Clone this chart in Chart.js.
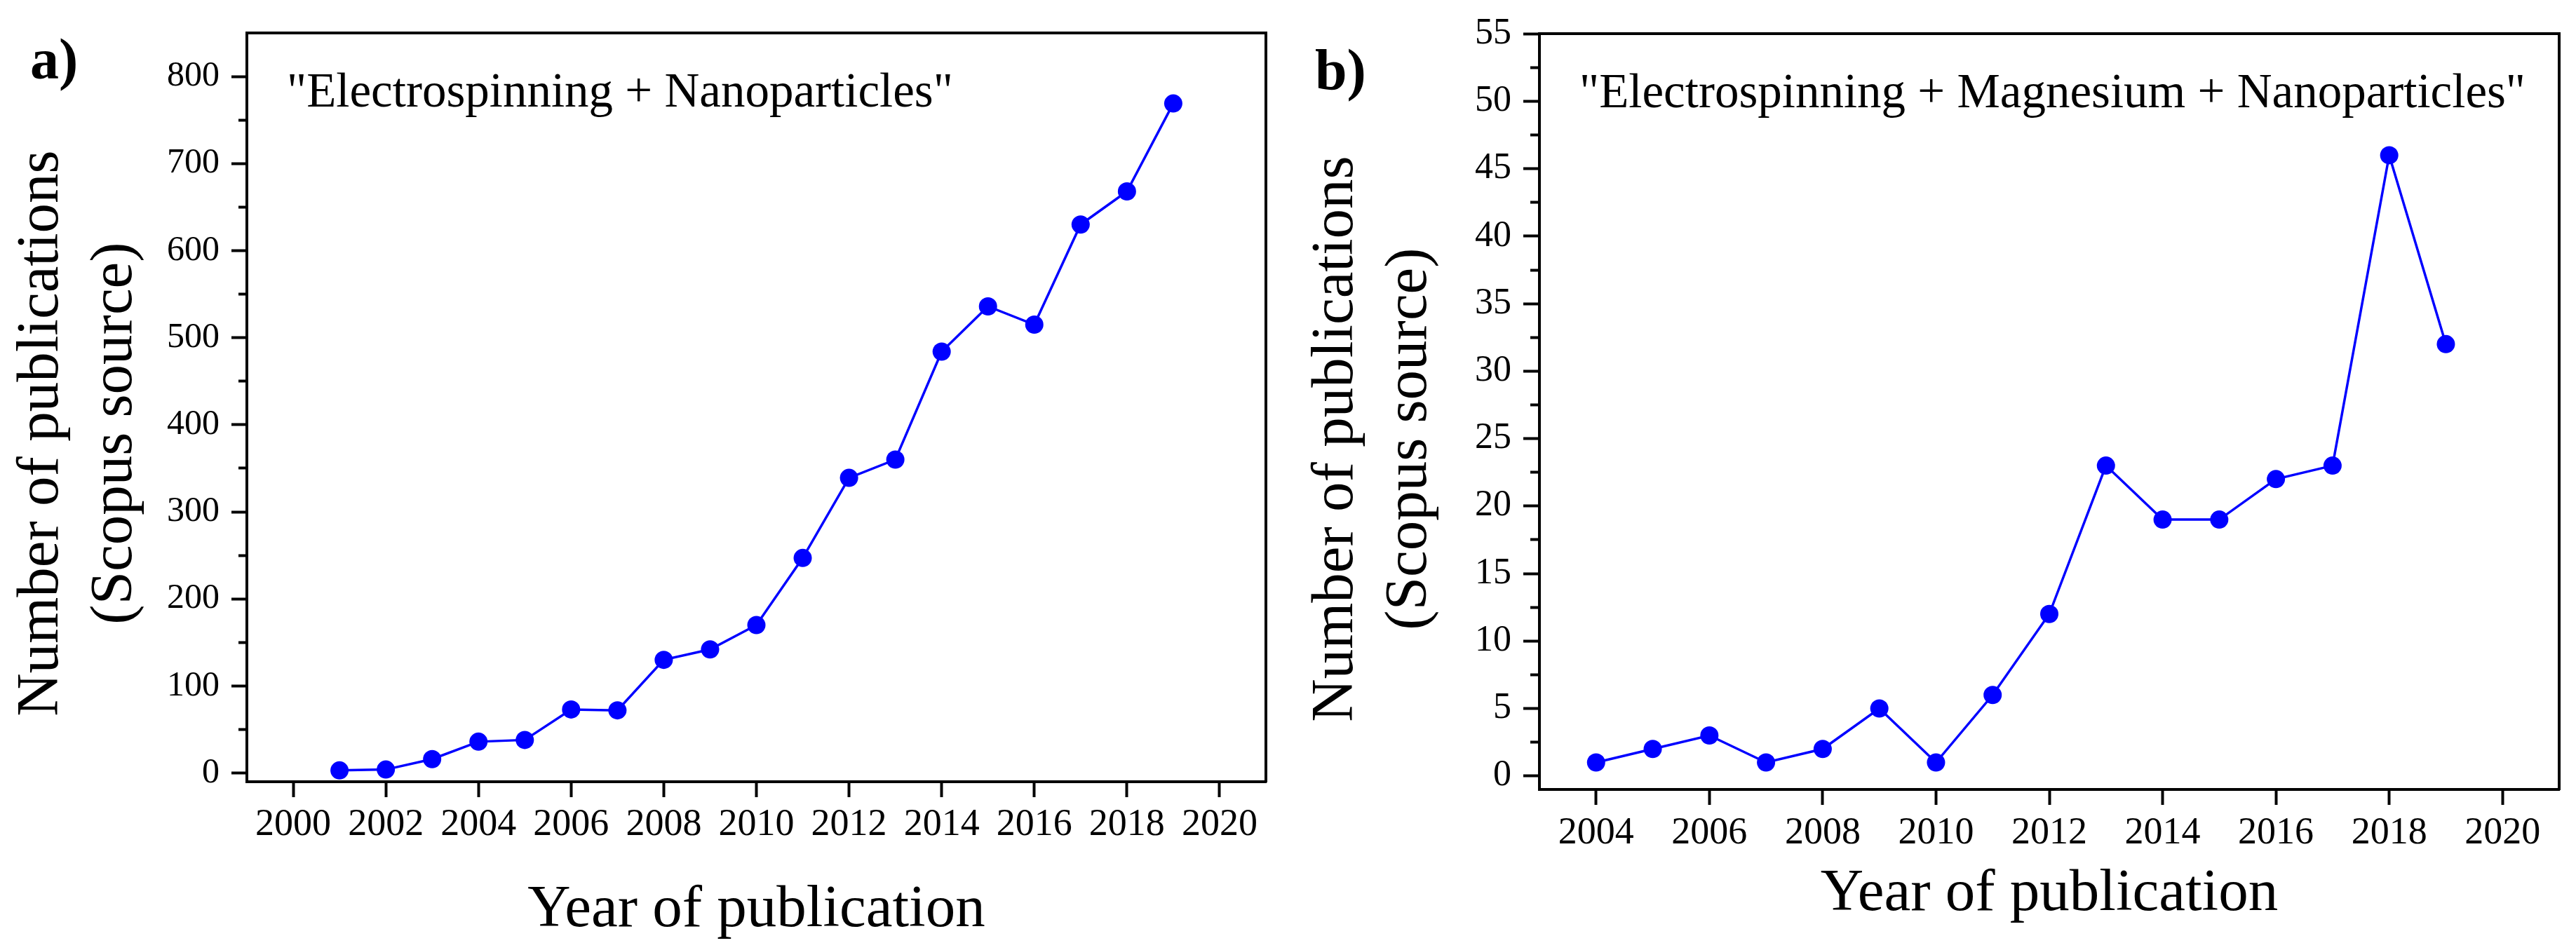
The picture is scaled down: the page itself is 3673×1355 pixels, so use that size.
<!DOCTYPE html>
<html>
<head>
<meta charset="utf-8">
<script src="https://cdn.jsdelivr.net/npm/chart.js@4.4.1/dist/chart.umd.min.js"></script>
<style>
  html, body { margin:0; padding:0; background:#fff; }
  body { width:3673px; height:1355px; position:relative; overflow:hidden; }
  .panel { position:absolute; top:0; height:1355px; }
  #pa { left:0; width:1840px; }
  #pb { left:1840px; width:1833px; }
</style>
</head>
<body>
<div class="panel" id="pa"><canvas id="ca" width="1840" height="1355"></canvas></div>
<div class="panel" id="pb"><canvas id="cb" width="1833" height="1355"></canvas></div>
<script>
// ---------- data ----------
const yearsA = [2001,2002,2003,2004,2005,2006,2007,2008,2009,2010,2011,2012,2013,2014,2015,2016,2017,2018,2019];
const pubsA  = [3,4,16,36,38,73,72,130,142,170,247,339,360,484,536,515,630,668,769];
const yearsB = [2004,2005,2006,2007,2008,2009,2010,2011,2012,2013,2014,2015,2016,2017,2018,2019];
const pubsB  = [1,2,3,1,2,5,1,6,12,23,19,19,22,23,46,32];

const xTicksA = [2000,2002,2004,2006,2008,2010,2012,2014,2016,2018,2020];
const yTicksA = [0,100,200,300,400,500,600,700,800];
const yMinorA = [50,150,250,350,450,550,650,750];
const xTicksB = [2004,2006,2008,2010,2012,2014,2016,2018,2020];
const yTicksB = [0,5,10,15,20,25,30,35,40,45,50,55];
const yMinorB = [2.5,7.5,12.5,17.5,22.5,27.5,32.5,37.5,42.5,47.5,52.5];

const labelA = 'a)';
const labelB = 'b)';
const noteA = '"Electrospinning + Nanoparticles"';
const noteB = '"Electrospinning + Magnesium + Nanoparticles"';
const yTitle = ['Number of publications', '(Scopus source)'];
const xTitle = 'Year of publication';

// ---------- helpers ----------
const FAM = "'Liberation Serif', 'Times New Roman', Times, serif";
const BLUE = '#0000FF';
const INK = '#000000';

function setTicks(list) {
  return function(scale) { scale.ticks = list.map(v => ({ value: v })); };
}

const textPlugin = {
  id: 'panelText',
  afterDraw(chart, args, o) {
    const ctx = chart.ctx;
    const ca = chart.chartArea;
    ctx.save();
    ctx.fillStyle = INK;
    // panel letter
    ctx.font = 'bold ' + o.labelSize + 'px ' + FAM;
    ctx.textAlign = 'left';
    ctx.textBaseline = 'alphabetic';
    ctx.fillText(o.label, o.labelX, o.labelY);
    // annotation
    ctx.font = o.noteSize + 'px ' + FAM;
    ctx.fillText(o.note, ca.left + o.noteDX, ca.top + o.noteDY);
    // y title (rotated, two lines)
    ctx.font = o.ySize + 'px ' + FAM;
    ctx.textAlign = 'center';
    ctx.textBaseline = 'middle';
    o.yLines.forEach((line, i) => {
      ctx.save();
      ctx.translate(o.yX[i], o.yY);
      ctx.rotate(-Math.PI / 2);
      ctx.fillText(line, 0, 0);
      ctx.restore();
    });
    ctx.restore();
  }
};

function makeChart(canvasId, cfg) {
  const ds = cfg.xs.map((x, i) => ({ x: x, y: cfg.ys[i] }));
  const tickFontX = { family: FAM, size: cfg.xTickSize };
  const tickFontY = { family: FAM, size: cfg.yTickSize };
  return new Chart(document.getElementById(canvasId), {
    type: 'line',
    data: {
      datasets: [{
        data: ds,
        borderColor: BLUE,
        borderWidth: 3.5,
        backgroundColor: BLUE,
        pointBackgroundColor: BLUE,
        pointBorderColor: BLUE,
        pointBorderWidth: 0,
        pointRadius: 13,
        tension: 0,
        fill: false,
        clip: false
      }]
    },
    options: {
      responsive: false,
      animation: false,
      devicePixelRatio: 1,
      layout: { padding: cfg.pad },
      plugins: {
        legend: { display: false },
        tooltip: { enabled: false },
        panelText: cfg.text
      },
      scales: {
        x: {
          type: 'linear', position: 'bottom',
          min: cfg.xMin, max: cfg.xMax,
          afterBuildTicks: setTicks(cfg.xTicks),
          afterFit: s => { s.height = cfg.xHeight; },
          grid: { drawOnChartArea: false, drawTicks: true, tickLength: 22, tickWidth: 4, tickColor: INK, color: INK },
          border: { display: true, color: INK, width: 4 },
          ticks: { font: tickFontX, color: INK, padding: cfg.xPad, maxRotation: 0, autoSkip: false, callback: v => String(v) },
          title: { display: true, text: xTitle, color: INK, font: { family: FAM, size: 85, lineHeight: 1.2 }, padding: { top: 0, bottom: cfg.xTitlePad } }
        },
        y: {
          type: 'linear', position: 'left', weight: 1,
          min: cfg.yMin, max: cfg.yMax,
          afterBuildTicks: setTicks(cfg.yTicks),
          afterFit: s => { s.width = cfg.yWidth; },
          grid: { drawOnChartArea: false, drawTicks: true, tickLength: cfg.yTickLen, tickWidth: 4, tickColor: INK, color: INK },
          border: { display: true, color: INK, width: 4 },
          ticks: { font: tickFontY, color: INK, padding: cfg.yPad, autoSkip: false, callback: v => String(v) }
        },
        yMinor: {
          type: 'linear', position: 'left', weight: 0,
          min: cfg.yMin, max: cfg.yMax,
          afterBuildTicks: setTicks(cfg.yMinor),
          afterFit: s => { s.width = 0; },
          grid: { drawOnChartArea: false, drawTicks: true, tickLength: cfg.yMinorLen, tickWidth: 4, tickColor: INK, color: INK },
          border: { display: false },
          ticks: { display: false }
        },
        xTop: {
          type: 'linear', position: 'top',
          min: cfg.xMin, max: cfg.xMax,
          afterFit: s => { s.height = 0; },
          grid: { drawOnChartArea: false, drawTicks: false },
          border: { display: true, color: INK, width: 4 },
          ticks: { display: false }
        },
        yRight: {
          type: 'linear', position: 'right',
          min: cfg.yMin, max: cfg.yMax,
          afterFit: s => { s.width = 0; },
          grid: { drawOnChartArea: false, drawTicks: false },
          border: { display: true, color: INK, width: 4 },
          ticks: { display: false }
        }
      }
    },
    plugins: [textPlugin]
  });
}

makeChart('ca', {
  xs: yearsA, ys: pubsA,
  xMin: 1999, xMax: 2021, yMin: -10, yMax: 850,
  xTicks: xTicksA, yTicks: yTicksA, yMinor: yMinorA,
  pad: { top: 30, right: 35, bottom: 0, left: 0 },
  xHeight: 240, yWidth: 352,
  xTickSize: 54, yTickSize: 50, xPad: 7, yPad: 17, yTickLen: 22, yMinorLen: 12,
  xTitlePad: 5,
  text: {
    label: labelA, labelSize: 82, labelX: 43, labelY: 112,
    note: noteA, noteSize: 69, noteDX: 57, noteDY: 105,
    yLines: yTitle, ySize: 85, yX: [60, 165], yY: 618
  }
});

makeChart('cb', {
  xs: yearsB, ys: pubsB,
  xMin: 2003, xMax: 2021, yMin: -1, yMax: 55,
  xTicks: xTicksB, yTicks: yTicksB, yMinor: yMinorB,
  pad: { top: 41.7, right: 24, bottom: 0, left: 0 },
  xHeight: 229, yWidth: 355,
  xTickSize: 54, yTickSize: 52, xPad: 8, yPad: 17, yTickLen: 23, yMinorLen: 13,
  xTitlePad: 28,
  text: {
    label: labelB, labelSize: 82, labelX: 35, labelY: 127,
    note: noteB, noteSize: 69, noteDX: 57, noteDY: 105,
    yLines: yTitle, ySize: 85, yX: [66, 171], yY: 626
  }
});
</script>
</body>
</html>
